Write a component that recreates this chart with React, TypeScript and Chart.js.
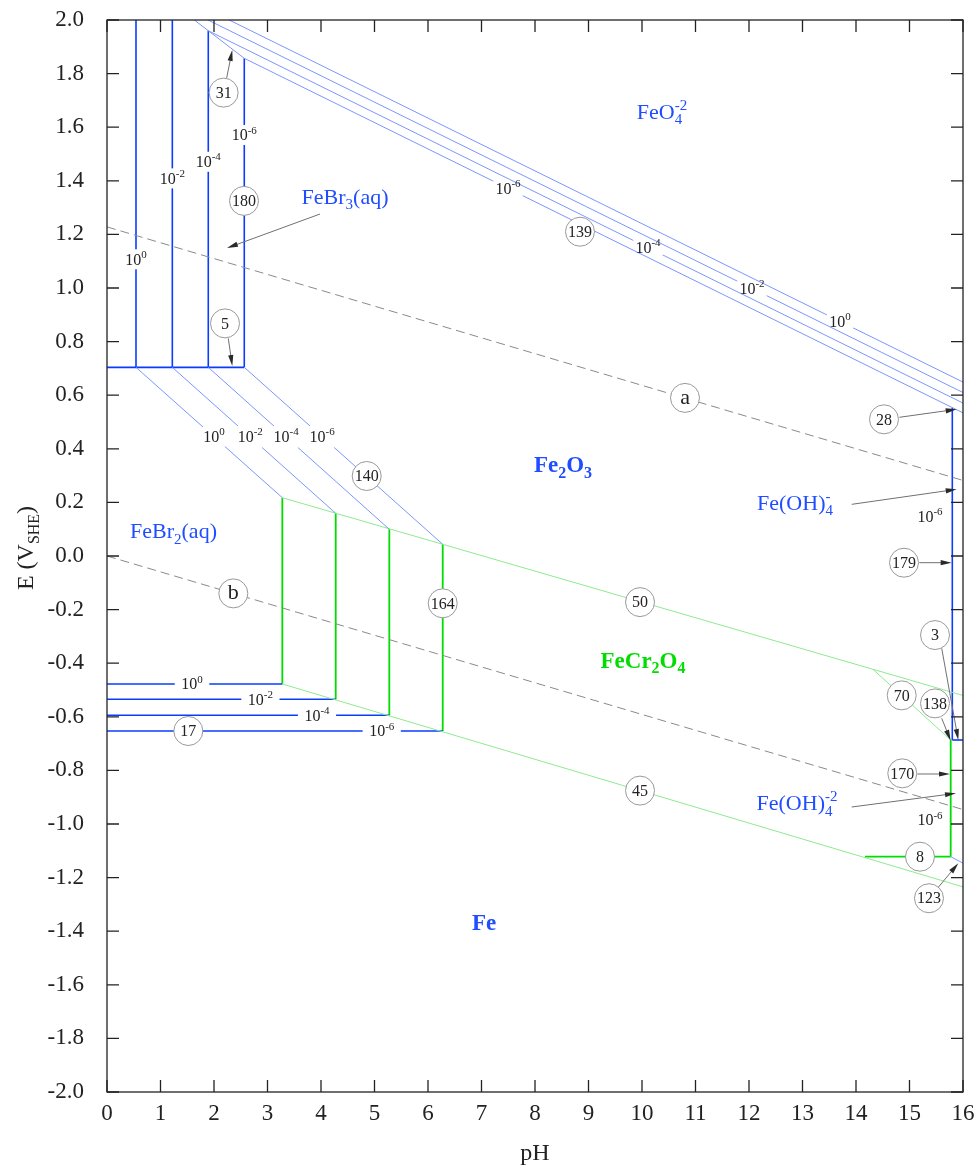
import React, { useEffect, useRef } from "react";
import { Chart, registerables } from "chart.js";

Chart.register(...registerables);

const SERIF = '"Liberation Serif", "Times New Roman", serif';

// Axis ranges and tick values
const PH_MIN = 0;
const PH_MAX = 16;
const E_MIN = -2.0;
const E_MAX = 2.0;

// Dissolved iron activity exponents (10^0 ... 10^-6)
const ACT_EXP = ["0", "-2", "-4", "-6"];

// FeBr3(aq) | Fe2O3 vertical boundaries (pH) and their upper ends (V)
const FEBR3_PH = [0.542, 1.221, 1.893, 2.566];
const FEBR3_TOP_E = [2.0, 2.0, 1.96, 1.857];
// FeBr3(aq) | FeBr2(aq) couple
const E_FEBR3_FEBR2 = 0.704;

// FeBr2(aq) | Fe2O3 sloped boundaries end on the Fe2O3 | FeCr2O4 line
const FEBR2_END_PH = [3.277, 4.275, 5.277, 6.275];
const FEBR2_END_E = [0.2175, 0.1593, 0.0996, 0.0437];
// FeBr2(aq) | Fe horizontal boundaries
const FEBR2_FE_E = [-0.4776, -0.5347, -0.5944, -0.653];

// FeO4(2-) | Fe2O3 boundaries: start point and potential at pH 16
const FEO4_START_PH = [2.284, 1.888, 1.893, 2.566];
const FEO4_START_E = [2.0, 2.0, 1.96, 1.857];
const FEO4_END_E = [0.649, 0.61, 0.5706, 0.534];
const FEO4_SLOPE = -0.0985;
// FeO4(2-) | FeBr3(aq)
const FEO4_FEBR3_PH = [1.633, 2.566];
const FEO4_FEBR3_E = [2.0, 1.857];

// Fe2O3 | FeCr2O4 and FeCr2O4 | Fe
const FE2O3_FECR2O4_PH = [3.277, 16];
const FE2O3_FECR2O4_E = [0.2175, -0.5204];
const FECR2O4_FE_PH = [3.277, 16];
const FECR2O4_FE_E = [-0.4776, -1.2346];

// Alkaline edge boundaries
const FECR2O4_FEOH4_PH = [14.318, 15.77];
const FECR2O4_FEOH4_E = [-0.423, -0.6866];
const FEOH4_2_PH = 15.77;
const FEOH4_2_E = [-0.6866, -1.122];
const FEOH4_2_FE_PH = [14.168, 15.77];
const FEOH4_2_FE_E = -1.122;
const EDGE_123_PH = [15.77, 16];
const EDGE_123_E = [-1.122, -1.146];
const FEOH4_PH = 15.8;
const FEOH4_E = [0.553, -0.6866];
const FEOH4_BASE_PH = [15.8, 16];

// Water stability lines (a: O2/H2O, b: H+/H2)
const WATER_PH = [0, 16];
const WATER_A_E = [1.228, 0.282];
const WATER_B_E = [0.0, -0.946];

// Activity labels on boundaries
const FEBR3_LABEL_E = [1.107, 1.409, 1.471, 1.571];
const FEBR2_DIAG_LABEL_PH = [1.998, 2.677, 3.349, 4.022];
const FEBR2_DIAG_LABEL_E = 0.445;
const FEBR2_DIAG_SLOPE = -0.178;
const FEO4_LABEL_PH = [13.701, 12.056, 10.112, 7.495];
const FEO4_LABEL_E = [0.8755, 0.9985, 1.1506, 1.372];
const FEBR2_FE_LABEL_PH = [1.589, 2.867, 3.925, 5.135];
const FREE_ACT_PH = [15.383, 15.383];
const FREE_ACT_E = [0.146, -0.985];

// Numbered reaction markers
const MARK_TEXT = ["31", "180", "5", "139", "140", "164", "50", "45", "17", "28", "179", "3", "70", "138", "170", "8", "123", "a", "b"];
const MARK_PH = [2.18, 2.561, 2.206, 8.841, 4.854, 6.275, 9.963, 9.963, 1.52, 14.523, 14.897, 15.477, 14.854, 15.477, 14.865, 15.196, 15.364, 10.804, 2.361];
const MARK_E = [1.729, 1.325, 0.868, 1.21, 0.2985, -0.1765, -0.172, -0.8754, -0.653, 0.51, -0.025, -0.295, -0.52, -0.55, -0.811, -1.122, -1.277, 0.59, -0.1395];

// Leader arrows: [tail pH, tail E, head pH, head E]
const ARROWS: number[][] = [
  [2.237, 1.784, 2.342, 1.888],
  [2.267, 0.812, 2.342, 0.709],
  [3.981, 1.276, 2.243, 1.149],
  [14.81, 0.5175, 15.882, 0.5474],
  [13.92, 0.1928, 15.882, 0.2488],
  [15.183, -0.025, 15.788, -0.025],
  [15.602, -0.3444, 15.912, -0.687],
  [15.602, -0.6056, 15.77, -0.689],
  [15.146, -0.8134, 15.757, -0.8134],
  [13.92, -0.9366, 15.869, -0.8855],
  [15.538, -1.236, 15.912, -1.1466],
];

// Species labels
type Run = { t: string; sub?: string; sup?: string };
const SPECIES: { runs: Run[]; ph: number; e: number; size: number; bold: boolean; color: string }[] = [
  { runs: [{ t: "FeO", sub: "4", sup: "-2" }], ph: 10.374, e: 1.657, size: 22, bold: false, color: "#1f4dff" },
  { runs: [{ t: "FeBr", sub: "3" }, { t: "(aq)" }], ph: 4.449, e: 1.34, size: 22, bold: false, color: "#1f4dff" },
  { runs: [{ t: "Fe", sub: "2" }, { t: "O", sub: "3" }], ph: 8.523, e: 0.34, size: 23, bold: true, color: "#1f4dff" },
  { runs: [{ t: "FeBr", sub: "2" }, { t: "(aq)" }], ph: 1.243, e: 0.093, size: 22, bold: false, color: "#1f4dff" },
  { runs: [{ t: "FeCr", sub: "2" }, { t: "O", sub: "4" }], ph: 10.019, e: -0.388, size: 23, bold: true, color: "#00dd00" },
  { runs: [{ t: "Fe" }], ph: 7.047, e: -1.369, size: 23, bold: true, color: "#1f4dff" },
  { runs: [{ t: "Fe(OH)", sub: "4", sup: "-" }], ph: 12.86, e: 0.198, size: 22, bold: false, color: "#1f4dff" },
  { runs: [{ t: "Fe(OH)", sub: "4", sup: "-2" }], ph: 12.897, e: -0.922, size: 22, bold: false, color: "#1f4dff" },
];

const BLUE = "#0a3cff";
const BLUE_THIN = "#7a96ff";
const GREEN = "#00dd00";
const GREEN_THIN = "#8fea8f";
const GREY = "#8a8a8a";

type P = { x: number; y: number };
const pts = (xs: number[], ys: number[]): P[] => xs.map((x, i) => ({ x, y: ys[i] }));

function seg(data: P[], color: string, width: number, dash: number[] = []) {
  return {
    data,
    showLine: true,
    pointRadius: 0,
    pointHoverRadius: 0,
    borderColor: color,
    backgroundColor: color,
    borderWidth: width,
    borderDash: dash,
    fill: false,
    tension: 0,
  };
}

function buildDatasets() {
  const ds: any[] = [];
  // water lines
  ds.push(seg(pts(WATER_PH, WATER_A_E), GREY, 1, [9, 5]));
  ds.push(seg(pts(WATER_PH, WATER_B_E), GREY, 1, [9, 5]));
  // FeO4 | Fe2O3
  FEO4_START_PH.forEach((ph, i) => {
    ds.push(seg(pts([ph, PH_MAX], [FEO4_START_E[i], FEO4_END_E[i]]), BLUE_THIN, 1));
  });
  ds.push(seg(pts(FEO4_FEBR3_PH, FEO4_FEBR3_E), BLUE_THIN, 1));
  // FeBr2 | Fe2O3 sloped
  FEBR3_PH.forEach((ph, i) => {
    ds.push(seg(pts([ph, FEBR2_END_PH[i]], [E_FEBR3_FEBR2, FEBR2_END_E[i]]), BLUE_THIN, 1));
  });
  // Fe2O3 | FeCr2O4, FeCr2O4 | Fe
  ds.push(seg(pts(FE2O3_FECR2O4_PH, FE2O3_FECR2O4_E), GREEN_THIN, 1));
  ds.push(seg(pts(FECR2O4_FE_PH, FECR2O4_FE_E), GREEN_THIN, 1));
  ds.push(seg(pts(FECR2O4_FEOH4_PH, FECR2O4_FEOH4_E), GREEN_THIN, 1));
  ds.push(seg(pts(EDGE_123_PH, EDGE_123_E), BLUE_THIN, 1));
  // FeBr3 | Fe2O3 verticals and FeBr3 | FeBr2
  FEBR3_PH.forEach((ph, i) => {
    ds.push(seg(pts([ph, ph], [E_FEBR3_FEBR2, FEBR3_TOP_E[i]]), BLUE, 1.6));
  });
  ds.push(seg(pts([PH_MIN, FEBR3_PH[3]], [E_FEBR3_FEBR2, E_FEBR3_FEBR2]), BLUE, 1.6));
  // FeBr2 | Fe horizontals
  FEBR2_FE_E.forEach((e, i) => {
    ds.push(seg(pts([PH_MIN, FEBR2_END_PH[i]], [e, e]), BLUE, 1.6));
  });
  // FeBr2 | FeCr2O4 verticals
  FEBR2_END_PH.forEach((ph, i) => {
    ds.push(seg(pts([ph, ph], [FEBR2_END_E[i], FEBR2_FE_E[i]]), GREEN, 1.8));
  });
  // alkaline edge
  ds.push(seg(pts([FEOH4_2_PH, FEOH4_2_PH], FEOH4_2_E), GREEN, 1.8));
  ds.push(seg(pts(FEOH4_2_FE_PH, [FEOH4_2_FE_E, FEOH4_2_FE_E]), GREEN, 1.8));
  ds.push(seg(pts([FEOH4_PH, FEOH4_PH], FEOH4_E), BLUE, 1.6));
  ds.push(seg(pts(FEOH4_BASE_PH, [FEOH4_E[1], FEOH4_E[1]]), BLUE, 1.6));
  return ds;
}

const fontOf = (size: number, bold = false) => `${bold ? "bold " : ""}${size}px ${SERIF}`;

function measureRuns(ctx: CanvasRenderingContext2D, runs: Run[], size: number, bold: boolean) {
  let w = 0;
  for (const r of runs) {
    ctx.font = fontOf(size, bold);
    w += ctx.measureText(r.t).width;
    ctx.font = fontOf(Math.round(size * 0.68), bold);
    const a = r.sub ? ctx.measureText(r.sub).width : 0;
    const b = r.sup ? ctx.measureText(r.sup).width : 0;
    w += Math.max(a, b);
  }
  return w;
}

function drawRuns(ctx: CanvasRenderingContext2D, runs: Run[], cx: number, cy: number, size: number, bold: boolean, color: string) {
  const w = measureRuns(ctx, runs, size, bold);
  let x = cx - w / 2;
  const base = cy + size * 0.33;
  ctx.fillStyle = color;
  ctx.textAlign = "left";
  ctx.textBaseline = "alphabetic";
  for (const r of runs) {
    ctx.font = fontOf(size, bold);
    ctx.fillText(r.t, x, base);
    x += ctx.measureText(r.t).width;
    ctx.font = fontOf(Math.round(size * 0.68), bold);
    let adv = 0;
    if (r.sub) {
      ctx.fillText(r.sub, x, base + size * 0.24);
      adv = ctx.measureText(r.sub).width;
    }
    if (r.sup) {
      ctx.fillText(r.sup, x, base - size * 0.42);
      adv = Math.max(adv, ctx.measureText(r.sup).width);
    }
    x += adv;
  }
  return w;
}

const overlay = {
  id: "pourbaixOverlay",
  afterDatasetsDraw(chart: any) {
    const { ctx, scales } = chart;
    const xs = scales.x;
    const ys = scales.y;
    const px = (v: number) => xs.getPixelForValue(v);
    const py = (v: number) => ys.getPixelForValue(v);
    const angleOf = (slope: number) => Math.atan2(py(slope) - py(0), px(1) - px(0));

    ctx.save();

    const actLabel = (exp: string, ph: number, e: number, ang: number | null, pad: number) => {
      const runs: Run[] = [{ t: "10", sup: exp }];
      const size = 16;
      const w = measureRuns(ctx, runs, size, false);
      const x = px(ph);
      const y = py(e);
      if (ang !== null) {
        const h = 14;
        const len = Math.abs(w * Math.cos(ang)) + Math.abs(h * Math.sin(ang)) + pad;
        ctx.save();
        ctx.translate(x, y);
        ctx.rotate(ang);
        ctx.fillStyle = "#ffffff";
        ctx.fillRect(-len / 2, -3.5, len, 7);
        ctx.restore();
      }
      drawRuns(ctx, runs, x, y, size, false, "#222222");
    };

    ACT_EXP.forEach((exp, i) => {
      actLabel(exp, FEBR3_PH[i], FEBR3_LABEL_E[i], Math.PI / 2, 6);
      actLabel(exp, FEBR2_DIAG_LABEL_PH[i], FEBR2_DIAG_LABEL_E, angleOf(FEBR2_DIAG_SLOPE), 4);
      actLabel(exp, FEO4_LABEL_PH[i], FEO4_LABEL_E[i], angleOf(FEO4_SLOPE), 4);
      actLabel(exp, FEBR2_FE_LABEL_PH[i], FEBR2_FE_E[i], 0, 13);
    });
    FREE_ACT_PH.forEach((ph, i) => actLabel("-6", ph, FREE_ACT_E[i], null, 0));

    // leader arrows
    ARROWS.forEach(([x0, y0, x1, y1]) => {
      const ax = px(x0), ay = py(y0), bx = px(x1), by = py(y1);
      const ang = Math.atan2(by - ay, bx - ax);
      const hl = 11, hw = 2.6;
      ctx.strokeStyle = "#707070";
      ctx.lineWidth = 1;
      ctx.beginPath();
      ctx.moveTo(ax, ay);
      ctx.lineTo(bx - Math.cos(ang) * hl * 0.8, by - Math.sin(ang) * hl * 0.8);
      ctx.stroke();
      ctx.fillStyle = "#2a2a2a";
      ctx.beginPath();
      ctx.moveTo(bx, by);
      ctx.lineTo(bx - Math.cos(ang) * hl - Math.sin(ang) * hw, by - Math.sin(ang) * hl + Math.cos(ang) * hw);
      ctx.lineTo(bx - Math.cos(ang) * hl + Math.sin(ang) * hw, by - Math.sin(ang) * hl - Math.cos(ang) * hw);
      ctx.closePath();
      ctx.fill();
    });

    // numbered markers
    MARK_TEXT.forEach((t, i) => {
      const x = px(MARK_PH[i]);
      const y = py(MARK_E[i]);
      ctx.beginPath();
      ctx.arc(x, y, 14.5, 0, Math.PI * 2);
      ctx.fillStyle = "#ffffff";
      ctx.fill();
      ctx.strokeStyle = "#999999";
      ctx.lineWidth = 1;
      ctx.stroke();
      const letter = /[a-z]/.test(t);
      ctx.fillStyle = "#222222";
      ctx.font = fontOf(letter ? 22 : 16);
      ctx.textAlign = "center";
      ctx.textBaseline = "middle";
      ctx.fillText(t, x, y + (letter ? 0 : 1));
    });

    // species names
    SPECIES.forEach((s) => drawRuns(ctx, s.runs, px(s.ph), py(s.e), s.size, s.bold, s.color));

    ctx.restore();
  },
  afterDraw(chart: any) {
    const { ctx, chartArea, scales } = chart;
    const { left, right, top, bottom } = chartArea;
    ctx.save();
    ctx.strokeStyle = "#222222";
    ctx.lineWidth = 1.3;
    ctx.strokeRect(left, top, right - left, bottom - top);
    const tl = 12;
    ctx.beginPath();
    scales.x.ticks.forEach((t: any) => {
      const x = scales.x.getPixelForValue(t.value);
      ctx.moveTo(x, bottom);
      ctx.lineTo(x, bottom - tl);
      ctx.moveTo(x, top);
      ctx.lineTo(x, top + tl);
    });
    scales.y.ticks.forEach((t: any) => {
      const y = scales.y.getPixelForValue(t.value);
      ctx.moveTo(left, y);
      ctx.lineTo(left + tl, y);
      ctx.moveTo(right, y);
      ctx.lineTo(right - tl, y);
    });
    ctx.stroke();

    // vertical axis title with subscript
    ctx.translate(25, (top + bottom) / 2 - 8);
    ctx.rotate(-Math.PI / 2);
    drawRuns(ctx, [{ t: "E (V", sub: "SHE" }, { t: ")" }], 0, 0, 24, false, "#222222");
    ctx.restore();
  },
};

export default function App() {
  const ref = useRef<HTMLCanvasElement>(null);
  useEffect(() => {
    document.body.style.margin = "0";
    const canvas = ref.current!;
    const chart = new Chart(canvas, {
      type: "scatter",
      data: { datasets: buildDatasets() },
      options: {
        responsive: false,
        animation: false,
        events: [],
        layout: { padding: { top: 20, right: 14, left: 0, bottom: 0 } },
        plugins: { legend: { display: false }, tooltip: { enabled: false } },
        scales: {
          x: {
            type: "linear",
            min: PH_MIN,
            max: PH_MAX,
            afterFit: (s: any) => {
              s.height = 80;
              s.paddingLeft = 0;
              s.paddingRight = 0;
            },
            grid: { display: false, drawTicks: false },
            border: { display: false },
            ticks: {
              stepSize: 1,
              autoSkip: false,
              maxRotation: 0,
              padding: 8,
              color: "#222222",
              font: { family: SERIF, size: 23 },
            },
            title: {
              display: true,
              text: "pH",
              color: "#222222",
              font: { family: SERIF, size: 24 },
              padding: { top: 0, bottom: 4 },
            },
          },
          y: {
            type: "linear",
            min: E_MIN,
            max: E_MAX,
            afterFit: (s: any) => {
              s.width = 107;
              s.paddingTop = 0;
              s.paddingBottom = 0;
            },
            grid: { display: false, drawTicks: false },
            border: { display: false },
            ticks: {
              stepSize: 0.2,
              autoSkip: false,
              padding: 23,
              color: "#222222",
              font: { family: SERIF, size: 23 },
              callback: (v: any) => {
                const n = Number(v);
                return (Math.abs(n) < 1e-9 ? 0 : n).toFixed(1);
              },
            },
          },
        },
      },
      plugins: [overlay],
    });
    return () => chart.destroy();
  }, []);
  return <canvas ref={ref} width={977} height={1172} style={{ display: "block", width: 977, height: 1172 }} />;
}
